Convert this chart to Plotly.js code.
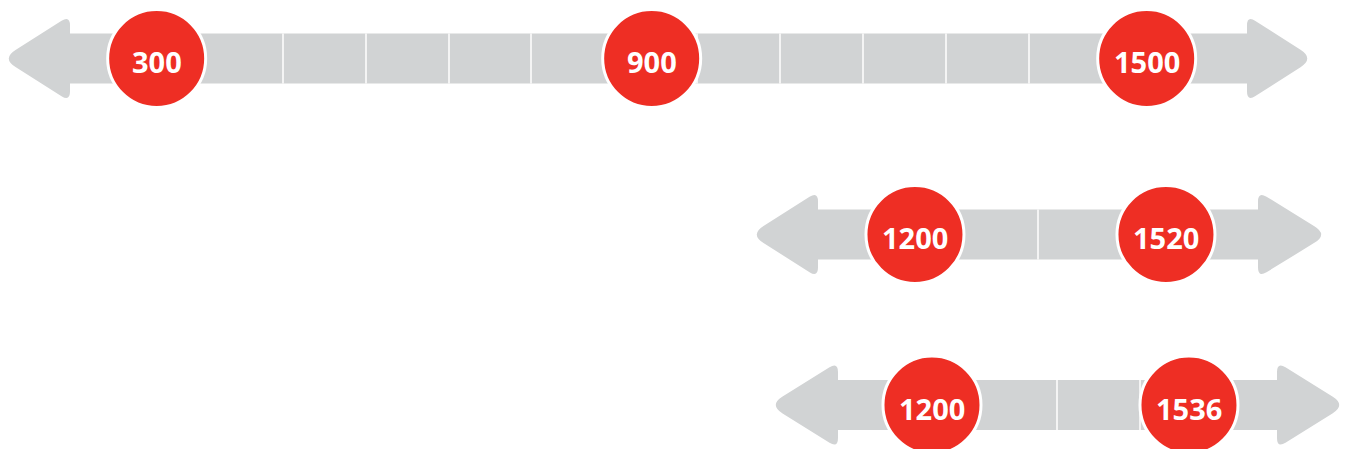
<!DOCTYPE html>
<html>
<head>
<meta charset="utf-8">
<script src="https://cdn.plot.ly/plotly-3.0.1.min.js"></script>
<style>
  html, body { margin: 0; padding: 0; background: #ffffff; }
  #chart { width: 1347px; height: 449px; }
</style>
</head>
<body>
<div id="chart"></div>
<script>
// ---- Data ----
const row1Values = [300, 900, 1500];
const row2Values = [1200, 1520];
const row3Values = [1200, 1536];
const row1Labels = ['300', '900', '1500'];
const row2Labels = ['1200', '1520'];
const row3Labels = ['1200', '1536'];

// ---- Layout / style (pixels) ----
const W = 1347, H = 449;
const RED = '#EE2E24';
const GREY = '#D1D3D4';
const ROWS = [
  { values: row1Values, labels: row1Labels, xa: 'x',  range: [110.1, 1742.8], cy: 58.5,
    tipL: 2,   backL: 70,  backR: 1247, tipR: 1314, dividers: [283, 366, 449, 531, 614, 697, 780, 863, 946, 1029] },
  { values: row2Values, labels: row2Labels, xa: 'x2', range: [33.5, 1750.8],  cy: 234.5,
    tipL: 750, backL: 818, backR: 1258, tipR: 1328, dividers: [1038] },
  { values: row3Values, labels: row3Labels, xa: 'x3', range: [-18.5, 1742.6], cy: 405,
    tipL: 769, backL: 838, backR: 1277, tipR: 1346, dividers: [1057, 1140] }
];
const BAND_HALF = 25, HEAD_HALF = 43;

function conv(p) { return (p[0] / W).toFixed(5) + ',' + (1 - p[1] / H).toFixed(5); }
function roundedPath(pts, radii) {
  const n = pts.length;
  let d = '';
  for (let i = 0; i < n; i++) {
    const p = pts[i], prev = pts[(i - 1 + n) % n], next = pts[(i + 1) % n], r = radii[i];
    const cmd = i === 0 ? 'M' : 'L';
    if (!r) { d += cmd + conv(p); continue; }
    const v1 = [prev[0] - p[0], prev[1] - p[1]], l1 = Math.hypot(v1[0], v1[1]);
    const v2 = [next[0] - p[0], next[1] - p[1]], l2 = Math.hypot(v2[0], v2[1]);
    const a = [p[0] + v1[0] / l1 * r, p[1] + v1[1] / l1 * r];
    const b = [p[0] + v2[0] / l2 * r, p[1] + v2[1] / l2 * r];
    d += cmd + conv(a) + 'Q' + conv(p) + ',' + conv(b);
  }
  return d + 'Z';
}

const shapes = [];
ROWS.forEach(row => {
  const cy = row.cy;
  const pts = [
    [row.backL, cy - BAND_HALF], [row.backL, cy - HEAD_HALF], [row.tipL, cy], [row.backL, cy + HEAD_HALF], [row.backL, cy + BAND_HALF],
    [row.backR, cy + BAND_HALF], [row.backR, cy + HEAD_HALF], [row.tipR, cy], [row.backR, cy - HEAD_HALF], [row.backR, cy - BAND_HALF]
  ];
  const radii = [0, 10, 16, 10, 0, 0, 10, 16, 10, 0];
  shapes.push({ type: 'path', xref: 'paper', yref: 'paper', layer: 'below',
    path: roundedPath(pts, radii), fillcolor: GREY, line: { width: 0 } });
  row.dividers.forEach(px => {
    shapes.push({ type: 'line', xref: 'paper', yref: 'paper', layer: 'below',
      x0: px / W, x1: px / W, y0: 1 - (cy - BAND_HALF) / H, y1: 1 - (cy + BAND_HALF) / H,
      line: { color: '#FFFFFF', width: 1.5 } });
  });
});

const traces = [];
const annotations = [];
ROWS.forEach(row => {
  traces.push({
    type: 'scatter', mode: 'markers', xaxis: row.xa, yaxis: 'y',
    x: row.values, y: row.values.map(() => row.cy),
    marker: { size: 98, color: RED, line: { color: '#FFFFFF', width: 3 } },
    hoverinfo: 'skip', showlegend: false, cliponaxis: false
  });
  row.values.forEach((v, i) => {
    annotations.push({ xref: row.xa, yref: 'y', x: v, y: row.cy, text: row.labels[i],
      showarrow: false, yshift: -3, xanchor: 'center', yanchor: 'middle',
      font: { family: 'Open Sans', size: 29, color: '#FFFFFF', weight: 'bold' } });
  });
});

const hidden = { visible: false, fixedrange: true };
const layout = {
  width: W, height: H,
  margin: { l: 0, r: 0, t: 0, b: 0, pad: 0 },
  paper_bgcolor: '#FFFFFF', plot_bgcolor: 'rgba(0,0,0,0)',
  showlegend: false,
  xaxis:  Object.assign({ range: ROWS[0].range }, hidden),
  xaxis2: Object.assign({ range: ROWS[1].range, overlaying: 'x', anchor: 'y' }, hidden),
  xaxis3: Object.assign({ range: ROWS[2].range, overlaying: 'x', anchor: 'y' }, hidden),
  yaxis:  Object.assign({ range: [H, 0] }, hidden),
  shapes: shapes,
  annotations: annotations
};

Plotly.newPlot('chart', traces, layout, { displayModeBar: false, staticPlot: true });
</script>
</body>
</html>
